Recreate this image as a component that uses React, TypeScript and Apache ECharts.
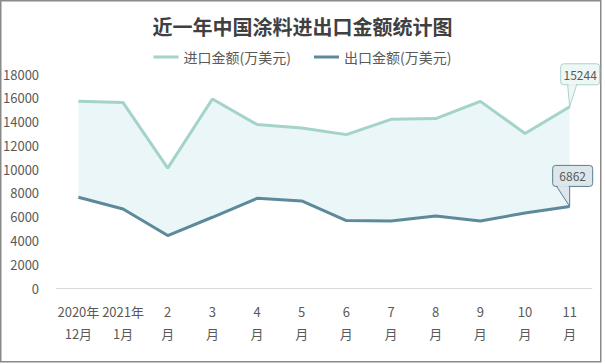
import React, { useEffect, useRef } from "react";
import * as echarts from "echarts";

const categories = ["2020年\n12月", "2021年\n1月", "2\n月", "3\n月", "4\n月", "5\n月", "6\n月", "7\n月", "8\n月", "9\n月", "10\n月", "11\n月"];
const importValues = [15700, 15600, 10080, 15900, 13750, 13460, 12900, 14190, 14250, 15700, 13000, 15244];
const exportValues = [7630, 6650, 4410, 5950, 7540, 7320, 5670, 5640, 6060, 5640, 6300, 6862];
const seriesNames = ["进口金额(万美元)", "出口金额(万美元)"];
const titleText = "近一年中国涂料进出口金额统计图";

const FONT = "'Microsoft YaHei', 'Noto Sans CJK SC', sans-serif";
const IMPORT_COLOR = "#a3d3c9";
const EXPORT_COLOR = "#5d8a9a";
const BAND_COLOR = "#eaf6f8";

export default function App() {
  const ref = useRef<HTMLDivElement>(null);
  useEffect(() => {
    document.body.style.margin = "0";
    const chart = echarts.init(ref.current!, null, { renderer: "svg" });
    const band = importValues.map((v, i) => v - exportValues[i]);
    chart.setOption({
      animation: false,
      backgroundColor: "#ffffff",
      title: {
        text: titleText,
        left: "center",
        top: 11,
        textStyle: { fontFamily: FONT, fontSize: 20, fontWeight: "bold", color: "#404040" },
      },
      legend: {
        data: seriesNames,
        top: 45,
        left: "center",
        icon: "rect",
        itemWidth: 25,
        itemHeight: 3,
        itemGap: 23,
        textStyle: { fontFamily: FONT, fontSize: 14, color: "#595959" },
      },
      grid: { left: 56, right: 13, top: 74, bottom: 76, containLabel: false },
      xAxis: {
        type: "category",
        data: categories,
        boundaryGap: true,
        axisLine: { lineStyle: { color: "#d9d9d9", width: 1 } },
        axisTick: { show: false },
        axisLabel: { interval: 0, fontFamily: FONT, fontSize: 13, lineHeight: 22, color: "#595959", margin: 12 },
      },
      yAxis: {
        type: "value",
        min: 0,
        max: 18000,
        interval: 2000,
        axisLine: { show: false },
        axisTick: { show: false },
        splitLine: { show: false },
        axisLabel: { fontFamily: FONT, fontSize: 13, color: "#595959", margin: 17, formatter: (v: number) => String(v) },
      },
      series: [
        {
          name: "base",
          type: "line",
          stack: "band",
          data: exportValues,
          showSymbol: false,
          symbol: "none",
          lineStyle: { width: 0, opacity: 0 },
          silent: true,
          z: 1,
        },
        {
          name: "bandFill",
          type: "line",
          stack: "band",
          data: band,
          showSymbol: false,
          symbol: "none",
          lineStyle: { width: 0, opacity: 0 },
          areaStyle: { color: BAND_COLOR, opacity: 1 },
          silent: true,
          z: 1,
        },
        {
          name: seriesNames[0],
          type: "line",
          data: importValues,
          showSymbol: false,
          symbol: "none",
          itemStyle: { color: IMPORT_COLOR },
          lineStyle: { color: IMPORT_COLOR, width: 3 },
          z: 3,
        },
        {
          name: seriesNames[1],
          type: "line",
          data: exportValues,
          showSymbol: false,
          symbol: "none",
          itemStyle: { color: EXPORT_COLOR },
          lineStyle: { color: EXPORT_COLOR, width: 3 },
          z: 3,
        },
      ],
    });

    const last = categories.length - 1;
    const pImp = chart.convertToPixel({ xAxisIndex: 0, yAxisIndex: 0 }, [last, importValues[last]]) as number[];
    const pExp = chart.convertToPixel({ xAxisIndex: 0, yAxisIndex: 0 }, [last, exportValues[last]]) as number[];

    const callout = (
      id: string,
      p: number[],
      value: number,
      bx0: number,
      bw: number,
      by0: number,
      bh: number,
      tl: number,
      tr: number,
      fill: string,
      stroke: string
    ): any[] => {
      const [px, py] = p;
      const x0 = px + bx0;
      const y0 = py + by0;
      const y1 = y0 + bh;
      return [
        {
          type: "rect",
          id: id + "-box",
          z: 100,
          shape: { x: x0, y: y0, width: bw, height: bh, r: 3 },
          style: { fill, stroke, lineWidth: 1 },
        },
        {
          type: "polygon",
          id: id + "-tail",
          z: 101,
          shape: { points: [[px + tl, y1], [px + tr, y1], [px, py]] },
          style: { fill, stroke, lineWidth: 1 },
        },
        {
          type: "rect",
          id: id + "-cover",
          z: 102,
          shape: { x: px + tl + 1, y: y1 - 1.5, width: tr - tl - 2, height: 2 },
          style: { fill, lineWidth: 0 },
        },
        {
          type: "text",
          id: id + "-text",
          z: 103,
          x: x0 + bw / 2,
          y: y0 + bh / 2,
          style: {
            text: String(value),
            align: "center",
            verticalAlign: "middle",
            fontFamily: FONT,
            fontSize: 12,
            fill: "#595959",
          },
        },
      ];
    };

    chart.setOption({
      graphic: [
        {
          type: "rect",
          id: "frame",
          shape: { x: 0.75, y: 0.75, width: 600, height: 361 },
          style: { fill: "none", stroke: "#8a8a8a", lineWidth: 1.5 },
          silent: true,
          z: 100,
        },
        ...callout("imp", pImp, importValues[last], -9, 39, -43, 21, -2, 7, "#eef7f6", "#a9d4cc"),
        ...callout("exp", pExp, exportValues[last], -17, 40, -41, 21, -13, 0, "#dde6ea", "#5d7f8d"),
      ],
    });

    return () => chart.dispose();
  }, []);
  return <div ref={ref} style={{ position: "fixed", left: 0, top: 0, width: 605, height: 364 }} />;
}
